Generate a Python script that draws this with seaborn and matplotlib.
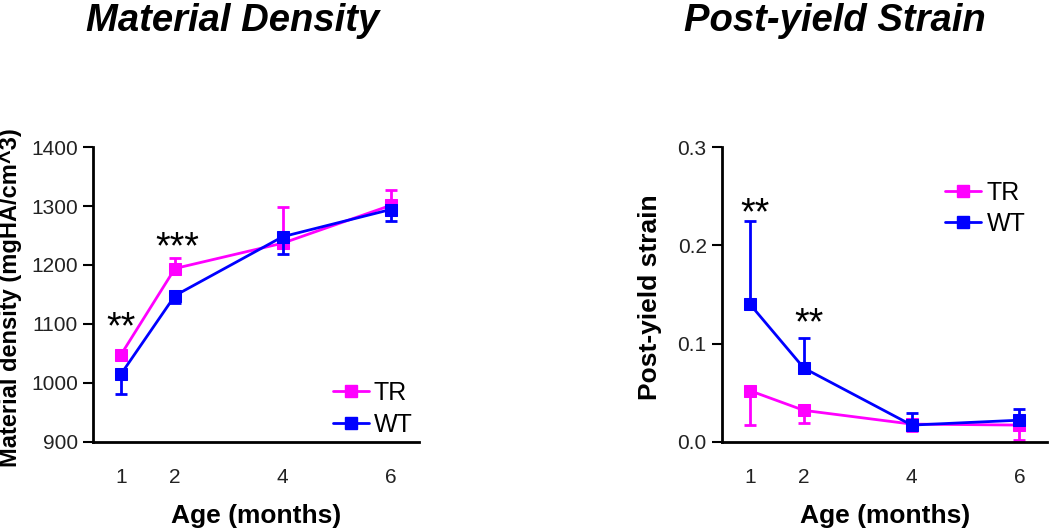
import numpy as np
import pandas as pd
import matplotlib
matplotlib.use("Agg")
import matplotlib.pyplot as plt
from matplotlib.lines import Line2D
import seaborn as sns

sns.set_style("ticks")
plt.rcParams["font.family"] = ["Liberation Sans", "DejaVu Sans"]
plt.rcParams["text.color"] = "black"
plt.rcParams["axes.labelcolor"] = "black"

age = [1, 2, 4, 6]
groups = ["TR", "WT"]
colors = {"TR": "#ff00ff", "WT": "#0000ff"}

# Material density (mgHA/cm^3)
dens_tr = [1048, 1194, 1237, 1301]
dens_tr_err = [6, 17, 62, 27]      # drawn upward
dens_wt = [1015, 1148, 1248, 1294]
dens_wt_err = [34, 12, 29, 20]     # drawn downward

# Post-yield strain
pys_tr = [0.052, 0.032, 0.018, 0.017]
pys_tr_err = [0.035, 0.013, 0.007, 0.015]   # drawn downward
pys_wt = [0.140, 0.075, 0.017, 0.022]
pys_wt_err = [0.085, 0.031, 0.012, 0.011]   # drawn upward

dens_stars = [(1, 1092, "**"), (2.05, 1228, "***")]
pys_stars = [(1.1, 0.232, "**"), (2.1, 0.12, "**")]


def make_df(tr, wt):
    return pd.DataFrame({
        "age": age * 2,
        "value": list(tr) + list(wt),
        "group": ["TR"] * len(age) + ["WT"] * len(age),
    })


def panel(ax, tr, tr_err, wt, wt_err, tr_up, ylim, yticks, yfmt, ylabel, ylsize,
          ylx, stars, leg_anchor):
    df = make_df(tr, wt)
    # error bars (one-sided)
    for g, vals, err, up in [("TR", tr, tr_err, tr_up), ("WT", wt, wt_err, not tr_up)]:
        e = np.array(err)
        yerr = [np.zeros_like(e), e] if up else [e, np.zeros_like(e)]
        ax.errorbar(age, vals, yerr=yerr, fmt="none", ecolor=colors[g],
                    elinewidth=2, capsize=4.5, capthick=2, zorder=2 if g == "TR" else 4)
    for g in groups:
        sns.lineplot(data=df[df["group"] == g], x="age", y="value", color=colors[g],
                     marker="s", markersize=9, markeredgecolor=colors[g],
                     linewidth=2, legend=False, ax=ax, zorder=3 if g == "TR" else 5)
    for x, y, s in stars:
        ax.text(x, y, s, ha="center", va="center", fontsize=27, color="black")
    ax.set_xlim(0.48, 6.52)
    ax.set_ylim(*ylim)
    ax.set_xticks(age)
    ax.set_yticks(yticks)
    ax.set_yticklabels([yfmt.format(v) for v in yticks])
    ax.tick_params(axis="x", length=0, pad=19, labelsize=15, labelcolor="#222222")
    ax.tick_params(axis="y", length=7, width=1.5, pad=4, labelsize=15,
                   labelcolor="#222222", color="black", direction="out")
    for sp in ["top", "right"]:
        ax.spines[sp].set_visible(False)
    for sp in ["left", "bottom"]:
        ax.spines[sp].set_linewidth(2)
        ax.spines[sp].set_color("black")
    ax.set_xlabel("Age (months)", fontsize=19, fontweight="bold", labelpad=12)
    ax.set_ylabel(ylabel, fontsize=ylsize, fontweight="bold")
    ax.yaxis.set_label_coords(ylx, 0.49)
    handles = [Line2D([0], [0], color=colors[g], marker="s", markersize=9, linewidth=2)
               for g in groups]
    ax.legend(handles, groups, loc="upper left", bbox_to_anchor=leg_anchor,
              frameon=False, fontsize=18, handlelength=1.45, handletextpad=0.2,
              labelspacing=0.3, borderaxespad=0)


fig = plt.figure(figsize=(10.5, 5.31), dpi=100)
ax1 = fig.add_axes([0.0886, 0.168, 0.31, 0.555])
ax2 = fig.add_axes([0.6876, 0.168, 0.31, 0.555])

panel(ax1, dens_tr, dens_tr_err, dens_wt, dens_wt_err, True,
      (900, 1400), [900, 1000, 1100, 1200, 1300, 1400], "{:.0f}",
      "Material density (mgHA/cm^3)", 17, -0.218, dens_stars, (0.705, 0.24))
panel(ax2, pys_tr, pys_tr_err, pys_wt, pys_wt_err, False,
      (0, 0.3), [0.0, 0.1, 0.2, 0.3], "{:.1f}",
      "Post-yield strain", 19, -0.184, pys_stars, (0.655, 0.92))

fig.text(0.222, 1 - 31 / 531, "Material Density", ha="center", va="baseline",
         fontsize=27.5, fontweight="bold", fontstyle="italic")
fig.text(0.795, 1 - 31 / 531, "Post-yield Strain", ha="center", va="baseline",
         fontsize=27.5, fontweight="bold", fontstyle="italic")

fig.savefig("out.png", dpi=100)
